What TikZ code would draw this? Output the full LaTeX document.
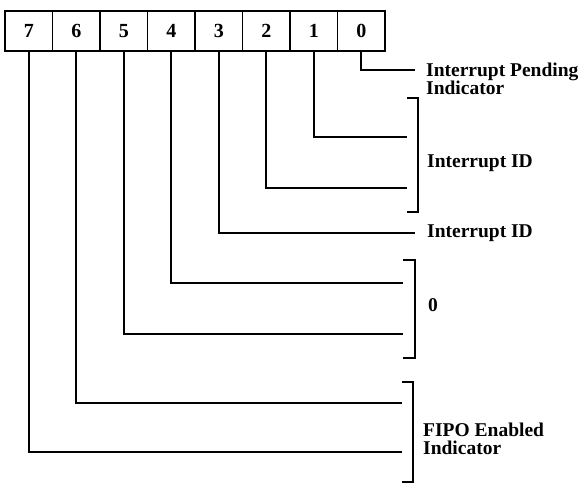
\documentclass[tikz,border=0pt]{standalone}
\usepackage{fontspec}
\setmainfont{Liberation Serif}
\begin{document}
\begin{tikzpicture}[x=1pt,y=-1pt,
  bitbox/.style={draw, line width=1.9pt, minimum width=47.5pt, minimum height=40pt, inner sep=0pt,
    font=\bfseries\fontsize{20}{20}\selectfont},
  wire/.style={line width=1.9pt},
  lbl/.style={anchor=west, inner sep=0pt, align=left, font=\bfseries\fontsize{19.5}{18}\selectfont}]
\useasboundingbox (0,0) rectangle (580,487);
% register boxes
\node[bitbox] (b7) at (28.75,31) {7};
\node[bitbox] (b6) at (76.25,31) {6};
\node[bitbox] (b5) at (123.75,31) {5};
\node[bitbox] (b4) at (171.25,31) {4};
\node[bitbox] (b3) at (218.75,31) {3};
\node[bitbox] (b2) at (266.25,31) {2};
\node[bitbox] (b1) at (313.75,31) {1};
\node[bitbox] (b0) at (361.25,31) {0};
% wire ends
\coordinate (e0) at (415,70);
\coordinate (e1) at (407,137);
\coordinate (e2) at (407,188);
\coordinate (e3) at (415,233);
\coordinate (e4) at (403,283);
\coordinate (e5) at (403,334);
\coordinate (e6) at (402,403);
\coordinate (e7) at (402,452);
\draw[wire] (b0.south) |- (e0);
\draw[wire] (b1.south) |- (e1);
\draw[wire] (b2.south) |- (e2);
\draw[wire] (b3.south) |- (e3);
\draw[wire] (b4.south) |- (e4);
\draw[wire] (b5.south) |- (e5);
\draw[wire] (b6.south) |- (e6);
\draw[wire] (b7.south) |- (e7);
% brackets
\draw[wire] (407,98) -- (418,98) -- (418,212) -- (407,212);
\draw[wire] (403,260) -- (415,260) -- (415,358) -- (403,358);
\draw[wire] (402,382) -- (413,382) -- (413,482) -- (402,482);
% labels
\node[lbl] (t0) at (426,79) {Interrupt Pending\\Indicator};
\node[lbl] (t12) at (427,163) {Interrupt ID};
\node[lbl] (t3) at (427,233) {Interrupt ID};
\node[lbl] (t45) at (428,305) {0};
\node[lbl] (t67) at (423,439) {FIPO Enabled\\Indicator};
\end{tikzpicture}
\end{document}
